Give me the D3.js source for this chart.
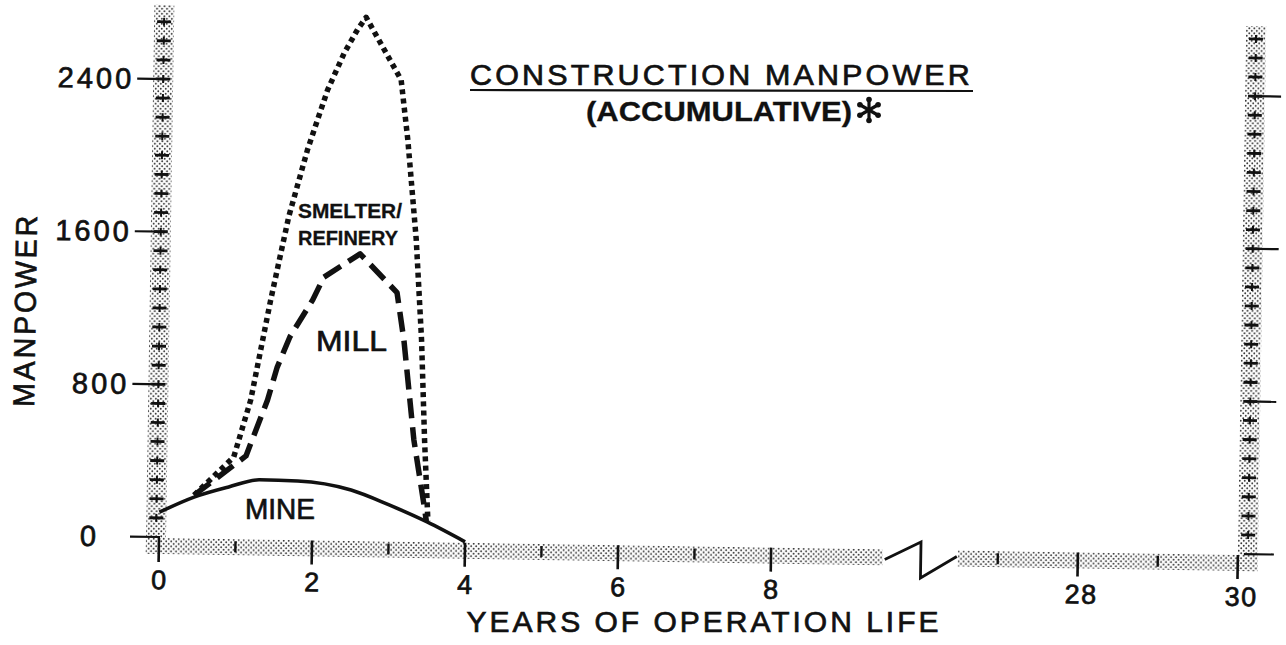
<!DOCTYPE html>
<html>
<head>
<meta charset="utf-8">
<script src="https://cdn.jsdelivr.net/npm/d3@7"></script>
<style>
  html, body { margin: 0; padding: 0; background: #fff; }
  svg { display: block; }
  text { font-family: "Liberation Sans", Arial, sans-serif; fill: #111; stroke: #111; stroke-width: 0.7; }
</style>
</head>
<body>
<div id="chart"></div>
<script>
// values (years, manpower)
const mineYears = [0, 0.45, 0.9, 1.3, 1.8, 2.5, 3.0, 3.5, 4.0];
const mineValues = [130, 212, 268, 308, 305, 262, 187, 101, 0];

const millYears = [0.45, 1.12, 1.39, 1.51, 1.67, 1.96, 2.1, 2.57, 3.06, 3.16, 3.31, 3.46, 3.49];
const millValues = [222, 432, 727, 900, 1060, 1255, 1375, 1500, 1300, 1050, 530, 180, 105];

const smelterYears = [0.45, 0.96, 1.17, 1.41, 1.63, 1.86, 2.11, 2.32, 2.49, 2.6, 3.07, 3.17, 3.3, 3.39, 3.45, 3.51];
const smelterValues = [222, 425, 725, 1250, 1690, 2040, 2355, 2550, 2675, 2740, 2415, 2100, 1580, 1055, 530, 105];

const yTickValues = [0, 800, 1600, 2400];
const yMinorTicks = d3.range(100, 2800, 100);
const xTickLabels = [0, 2, 4, 6, 8, 28, 30];
const xMinorTicks = [1, 3, 5, 7, 27, 29];
const breakYears = [9.5, 26.5];

const width = 1286;
const height = 645;
const tilt = 0.9; // the scan is slightly rotated

const svg = d3.select('#chart').append('svg').attr('width', width).attr('height', height);

// stipple used for the axis bands
const pat = svg.append('defs').append('pattern')
  .attr('id', 'stipple').attr('patternUnits', 'userSpaceOnUse')
  .attr('width', 5).attr('height', 5);
pat.append('rect').attr('width', 5).attr('height', 5).attr('fill', '#fff');
pat.append('circle').attr('cx', 1.25).attr('cy', 1.25).attr('r', 0.95).attr('fill', '#333');
pat.append('circle').attr('cx', 3.75).attr('cy', 3.75).attr('r', 0.95).attr('fill', '#333');

// broken x axis: 0..9.5 then 26.5..30
const x = d3.scaleLinear()
  .domain([0, breakYears[0], breakYears[1], 30])
  .range([159, 886, 958, 1238]);
const y = d3.scaleLinear().domain([0, 2400]).range([537, 79]);

const g = svg.append('g').attr('transform', `rotate(${tilt}, ${x(0)}, ${y(0)})`);

const bandTop = 538, bandBottom = 554;
const leftBand = [146, 166];
const rightBand = [1238, 1258];

// bands
g.append('rect').attr('x', leftBand[0]).attr('y', 5)
  .attr('width', leftBand[1] - leftBand[0]).attr('height', bandBottom - 5)
  .attr('fill', 'url(#stipple)');
g.append('rect').attr('x', rightBand[0]).attr('y', 9)
  .attr('width', rightBand[1] - rightBand[0]).attr('height', bandBottom - 9)
  .attr('fill', 'url(#stipple)');
g.append('rect').attr('x', leftBand[0]).attr('y', bandTop)
  .attr('width', x(breakYears[0]) - 3 - leftBand[0]).attr('height', bandBottom - bandTop)
  .attr('fill', 'url(#stipple)');
g.append('rect').attr('x', x(breakYears[1])).attr('y', bandTop)
  .attr('width', rightBand[1] - x(breakYears[1])).attr('height', bandBottom - bandTop)
  .attr('fill', 'url(#stipple)');

// break zigzag
const zx0 = x(breakYears[0]) - 1, zx1 = x(breakYears[1]) - 1;
const zmid = (zx0 + zx1) / 2;
g.append('path')
  .attr('d', `M${zx0},${bandTop + 10}L${zmid},${bandTop - 8}L${zmid},${bandBottom + 12}L${zx1},${bandTop + 6}`)
  .attr('fill', 'none').attr('stroke', '#111').attr('stroke-width', 2.8).attr('stroke-linejoin', 'miter');

// minor ticks on vertical bands
[leftBand, rightBand].forEach((band) => {
  const cx = (band[0] + band[1]) / 2;
  const ticks = g.append('g').selectAll('g').data(yMinorTicks).enter().append('g');
  ticks.append('line')
    .attr('x1', band[0] + 3).attr('x2', band[1] - 3)
    .attr('y1', (d) => y(d)).attr('y2', (d) => y(d))
    .attr('stroke', '#111').attr('stroke-width', 2.8);
  ticks.append('line')
    .attr('x1', cx).attr('x2', cx)
    .attr('y1', (d) => y(d) - 4).attr('y2', (d) => y(d) + 4)
    .attr('stroke', '#111').attr('stroke-width', 2);
});

// left major ticks and labels
g.selectAll('.ytick').data(yTickValues).enter().append('line')
  .attr('class', 'ytick')
  .attr('x1', 130).attr('x2', 160)
  .attr('y1', (d) => y(d)).attr('y2', (d) => y(d))
  .attr('stroke', '#111').attr('stroke-width', 2.2);
g.selectAll('.ylabel').data(yTickValues).enter().append('text')
  .attr('class', 'ylabel')
  .attr('x', (d) => (d === 0 ? 99 : 127))
  .attr('y', (d) => y(d) + 10)
  .attr('text-anchor', 'end')
  .attr('font-size', 29)
  .attr('letter-spacing', 3)
  .text((d) => d);

// right major ticks (no labels)
g.selectAll('.rtick').data(yTickValues).enter().append('line')
  .attr('class', 'rtick')
  .attr('x1', rightBand[0] + 6).attr('x2', rightBand[1] + 16)
  .attr('y1', (d) => y(d)).attr('y2', (d) => y(d))
  .attr('stroke', '#111').attr('stroke-width', 2.2);

// x ticks
g.selectAll('.xmaj').data(xTickLabels).enter().append('line')
  .attr('class', 'xmaj')
  .attr('x1', (d) => x(d)).attr('x2', (d) => x(d))
  .attr('y1', bandTop).attr('y2', bandBottom + 8)
  .attr('stroke', '#111').attr('stroke-width', 2.6);
g.selectAll('.xmin').data(xMinorTicks).enter().append('line')
  .attr('class', 'xmin')
  .attr('x1', (d) => x(d)).attr('x2', (d) => x(d))
  .attr('y1', bandTop + 2).attr('y2', bandBottom - 3)
  .attr('stroke', '#111').attr('stroke-width', 2.4);
g.selectAll('.xlabel').data(xTickLabels).enter().append('text')
  .attr('class', 'xlabel')
  .attr('x', (d) => x(d) + (d >= 28 ? 4 : 1))
  .attr('y', 589)
  .attr('text-anchor', 'middle')
  .attr('font-size', 27)
  .attr('letter-spacing', 1.5)
  .text((d) => d);

// curves
const line = d3.line().x((d) => x(d[0])).y((d) => y(d[1]));
const smoothLine = d3.line().x((d) => x(d[0])).y((d) => y(d[1])).curve(d3.curveMonotoneX);

g.append('path')
  .datum(d3.zip(mineYears, mineValues))
  .attr('d', smoothLine)
  .attr('fill', 'none').attr('stroke', '#111').attr('stroke-width', 3.6);

g.append('path')
  .datum(d3.zip(millYears, millValues))
  .attr('d', line)
  .attr('fill', 'none').attr('stroke', '#111').attr('stroke-width', 5.5)
  .attr('stroke-dasharray', '20 9').attr('stroke-linejoin', 'round');

g.append('path')
  .datum(d3.zip(smelterYears, smelterValues))
  .attr('d', line)
  .attr('fill', 'none').attr('stroke', '#111').attr('stroke-width', 5.5)
  .attr('stroke-dasharray', '5 4.2').attr('stroke-linejoin', 'round');

g.append('text')
  .attr('transform', 'translate(32, 312) rotate(-90)')
  .attr('text-anchor', 'middle')
  .attr('font-size', 30)
  .attr('textLength', 194).attr('lengthAdjust', 'spacingAndGlyphs')
  .attr('letter-spacing', 3)
  .text('MANPOWER');

// titles and curve names (placed as seen on the page)
const notes = svg.append('g');
notes.append('text')
  .attr('x', 704).attr('y', 632)
  .attr('text-anchor', 'middle')
  .attr('font-size', 30)
  .attr('textLength', 475).attr('lengthAdjust', 'spacingAndGlyphs')
  .attr('letter-spacing', 3)
  .text('YEARS OF OPERATION LIFE');

notes.append('text')
  .attr('x', 470).attr('y', 85)
  .attr('font-size', 29)
  .attr('letter-spacing', 3)
  .attr('textLength', 503).attr('lengthAdjust', 'spacingAndGlyphs')
  .text('CONSTRUCTION MANPOWER');
notes.append('line')
  .attr('x1', 470).attr('x2', 973).attr('y1', 90).attr('y2', 91)
  .attr('stroke', '#111').attr('stroke-width', 2.2);
notes.append('text')
  .attr('x', 586).attr('y', 121)
  .attr('font-size', 28).attr('font-weight', 'bold')
  .style('stroke-width', 0.3)
  .attr('textLength', 266).attr('lengthAdjust', 'spacingAndGlyphs')
  .text('(ACCUMULATIVE)');

// heavy asterisk
const star = notes.append('g').attr('transform', 'translate(869, 110)');
[90, 30, -30].forEach((a) => {
  const r = 10.5, t = (a * Math.PI) / 180;
  star.append('line')
    .attr('x1', -r * Math.cos(t)).attr('y1', -r * Math.sin(t))
    .attr('x2', r * Math.cos(t)).attr('y2', r * Math.sin(t))
    .attr('stroke', '#111').attr('stroke-width', 3.2).attr('stroke-linecap', 'round');
  [-1, 1].forEach((s) => {
    star.append('circle')
      .attr('cx', s * r * Math.cos(t)).attr('cy', s * r * Math.sin(t))
      .attr('r', 2.8).attr('fill', '#111');
  });
});

notes.append('text')
  .attr('x', 298).attr('y', 218)
  .attr('font-size', 20).attr('font-weight', 'bold')
  .style('stroke-width', 0.3)
  .attr('textLength', 104).attr('lengthAdjust', 'spacingAndGlyphs')
  .text('SMELTER/');
notes.append('text')
  .attr('x', 298).attr('y', 245)
  .attr('font-size', 20).attr('font-weight', 'bold')
  .style('stroke-width', 0.3)
  .attr('textLength', 100).attr('lengthAdjust', 'spacingAndGlyphs')
  .text('REFINERY');
notes.append('text')
  .attr('x', 316).attr('y', 351)
  .attr('font-size', 29)
  .attr('textLength', 71).attr('lengthAdjust', 'spacingAndGlyphs')
  .text('MILL');
notes.append('text')
  .attr('x', 245).attr('y', 519)
  .attr('font-size', 29)
  .attr('textLength', 70).attr('lengthAdjust', 'spacingAndGlyphs')
  .text('MINE');
</script>
</body>
</html>
